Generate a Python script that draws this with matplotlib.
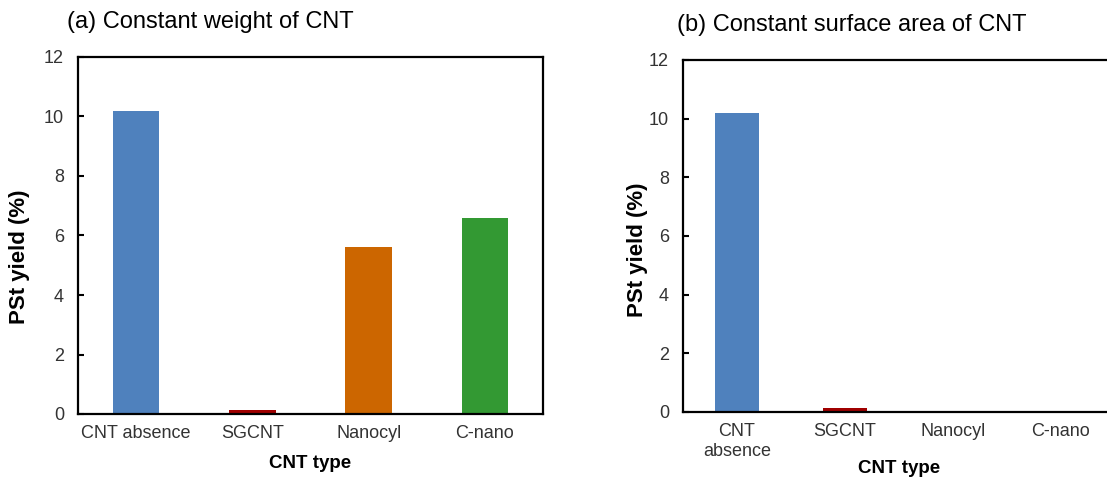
import matplotlib.pyplot as plt

plt.rcParams['font.family'] = ['Liberation Sans', 'DejaVu Sans']

# Dados
tipos_a = ["CNT absence", "SGCNT", "Nanocyl", "C-nano"]
tipos_b = ["CNT\nabsence", "SGCNT", "Nanocyl", "C-nano"]
rendimento_a = [10.2, 0.12, 5.6, 6.6]
rendimento_b = [10.18, 0.15, 0.0, 0.0]
cores = ["#4F81BD", "#A00000", "#CC6600", "#339933"]

titulos = ["(a) Constant weight of CNT", "(b) Constant surface area of CNT"]

fig = plt.figure(figsize=(11.07, 4.79), dpi=100)

ax_a = fig.add_axes([78 / 1107, 1 - 414 / 479, 465 / 1107, 357 / 479])
ax_b = fig.add_axes([683 / 1107, 1 - 412 / 479, 432 / 1107, 352 / 479])

# posicao dos rotulos (coordenadas do eixo)
pos_ylabel = [(-0.103, 0.44), (-0.081, 0.46)]
pos_xlabel = [-0.115, -0.135]

for i, (ax, tipos, valores) in enumerate([
    (ax_a, tipos_a, rendimento_a),
    (ax_b, tipos_b, rendimento_b),
]):
    x = range(len(tipos))
    ax.bar(x, valores, width=0.4, color=cores)
    ax.set_xlim(-0.5, len(tipos) - 0.5)
    ax.set_ylim(0, 12)
    ax.set_yticks(range(0, 13, 2))
    ax.set_xticks(list(x))
    ax.set_xticklabels(tipos, fontsize=13, color="#333333", linespacing=1.25)
    ax.tick_params(axis="y", direction="in", length=4, width=1.5, pad=10,
                   labelsize=13, labelcolor="#333333")
    ax.tick_params(axis="x", length=0, pad=8)
    for s in ax.spines.values():
        s.set_linewidth(1.6)
    ax.set_ylabel("PSt yield (%)", fontsize=16, fontweight="bold")
    ax.set_xlabel("CNT type", fontsize=13.5, fontweight="bold")
    ax.yaxis.set_label_coords(*pos_ylabel[i])
    ax.xaxis.set_label_coords(0.5, pos_xlabel[i])

fig.text(67 / 1107, 1 - 22 / 479, titulos[0], fontsize=17, va="center", ha="left")
fig.text(677 / 1107, 1 - 25 / 479, titulos[1], fontsize=17, va="center", ha="left")

fig.savefig("out.png", dpi=100)
